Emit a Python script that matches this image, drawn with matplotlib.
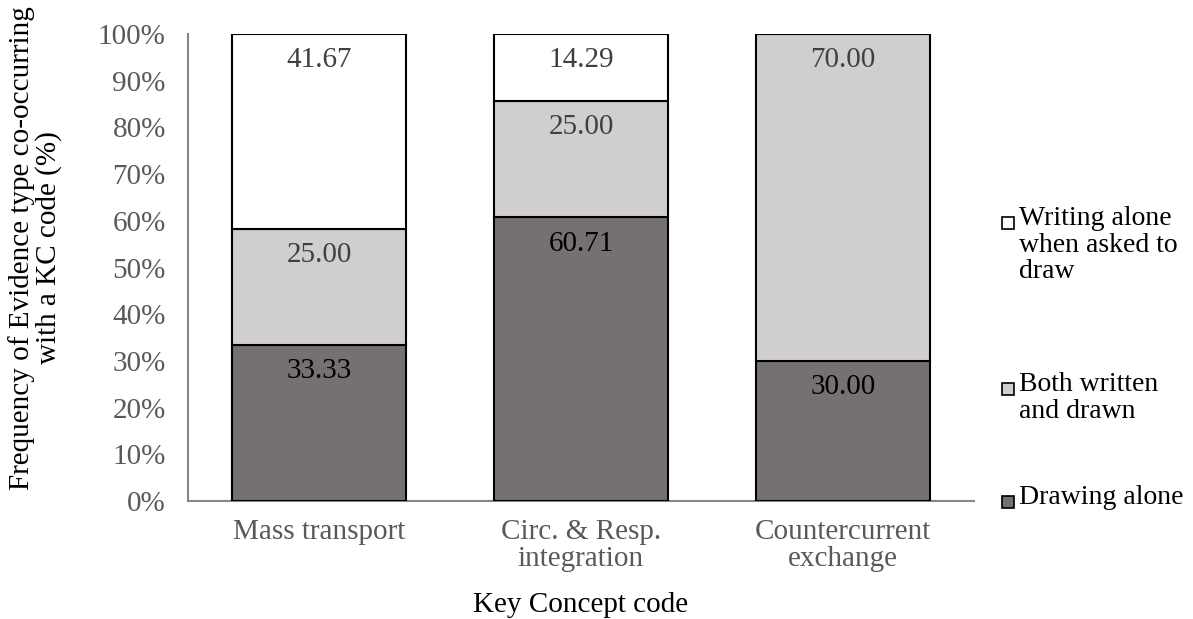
import numpy as np
import matplotlib.pyplot as plt
from matplotlib.patches import Rectangle

plt.rcParams["font.family"] = ["Liberation Serif", "DejaVu Serif"]

# ----------------------------------------------------------------------
# Data (percent of evidence per KC code)
# ----------------------------------------------------------------------
categories = ["Mass transport", "Circ. & Resp.\nintegration", "Countercurrent\nexchange"]
drawing_alone = [33.33, 60.71, 30.00]
both_written_drawn = [25.00, 25.00, 70.00]
writing_alone = [41.67, 14.29, 0.00]

series_labels = ["Drawing alone", "Both written\nand drawn", "Writing alone\nwhen asked to\ndraw"]
series_colors = ["#767171", "#D0CECE", "#FFFFFF"]
label_colors = ["#000000", "#404040", "#404040"]
series_values = [drawing_alone, both_written_drawn, writing_alone]

FS = 21
TICK_COLOR = "#595959"

fig = plt.figure(figsize=(11.93, 6.19), dpi=100)
ax = fig.add_axes([188 / 1193, 1 - 501 / 619, (974 - 188) / 1193, (501 - 34) / 619])

x = np.arange(len(categories))
bottom = np.zeros(len(categories))
for vals, color, lcolor in zip(series_values, series_colors, label_colors):
    vals = np.array(vals)
    ax.bar(x, vals, width=0.665, bottom=bottom, color=color,
           edgecolor="black", linewidth=1.5, zorder=3)
    for xi, b, v in zip(x, bottom, vals):
        if v > 0:
            ax.text(xi, b + v - 2.8, f"{v:.2f}", ha="center", va="top",
                    fontsize=FS, color=lcolor, zorder=4)
    bottom += vals

ax.set_xlim(-0.5, len(categories) - 0.5)
ax.set_ylim(0, 100)
ax.set_yticks(np.arange(0, 101, 10))
ax.set_yticklabels([f"{t}%" for t in range(0, 101, 10)])
ax.set_xticks(x)
ax.set_xticklabels(categories, linespacing=1.05)
ax.tick_params(axis="both", length=0, labelsize=FS, colors=TICK_COLOR)
ax.tick_params(axis="y", pad=16)
ax.tick_params(axis="x", pad=13)

for side in ["top", "right"]:
    ax.spines[side].set_visible(False)
for side in ["left", "bottom"]:
    ax.spines[side].set_color("#868686")
    ax.spines[side].set_linewidth(1.5)

fig.text(581 / 1193, 1 - 605 / 619, "Key Concept code", ha="center", va="center",
         fontsize=FS, color="black")
fig.text(35 / 1193, 1 - 248 / 619,
         "Frequency of Evidence type co-occurring\nwith a KC code (%)",
         rotation=90, ha="center", va="center", fontsize=FS, linespacing=1.0)

# ----------------------------------------------------------------------
# Legend (Excel style: marker aligned with first line of each entry)
# ----------------------------------------------------------------------
legend_tops = [485, 372, 206]
for label, color, ytop in zip(series_labels, series_colors, legend_tops):
    fig.patches.append(Rectangle((1002 / 1193, 1 - (ytop + 23) / 619), 12 / 1193, 12 / 619,
                                 transform=fig.transFigure, facecolor=color,
                                 edgecolor="black", linewidth=1.2))
    fig.text(1019 / 1193, 1 - ytop / 619, label, ha="left", va="top",
             fontsize=20, linespacing=1.08)

fig.savefig("out.png", dpi=100)
